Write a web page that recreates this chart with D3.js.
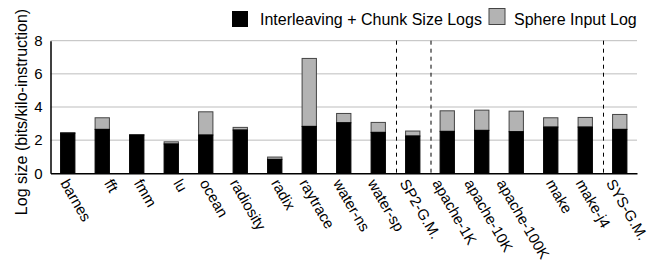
<!DOCTYPE html>
<html>
<head>
<meta charset="utf-8">
<script src="https://cdn.jsdelivr.net/npm/d3@7"></script>
<style>
	body { margin: 0; background: #fff; }
	text { font-family: "Liberation Sans", Arial, sans-serif; fill: #000; }
</style>
</head>
<body>
<script>
// Benchmarks on the x axis
let categories = ["barnes", "fft", "fmm", "lu", "ocean", "radiosity", "radix", "raytrace",
	"water-ns", "water-sp", "SP2-G.M.", "apache-1K", "apache-10K", "apache-100K",
	"make", "make-j4", "SYS-G.M."];

// Stacked series (bits/kilo-instruction)
let interleaveLog = [2.42, 2.65, 2.31, 1.77, 2.31, 2.61, 0.84, 2.83, 3.05, 2.47, 2.25,
	2.53, 2.59, 2.51, 2.79, 2.79, 2.65];
let inputLog = [0.03, 0.70, 0.02, 0.13, 1.40, 0.16, 0.14, 4.10, 0.56, 0.60, 0.30,
	1.24, 1.22, 1.24, 0.56, 0.58, 0.90];

let seriesNames = ["Interleaving + Chunk Size Logs", "Sphere Input Log"];
let yTicks = [0, 2, 4, 6, 8];

// Group separators sit before these categories
let separators = ["SP2-G.M.", "apache-1K", "SYS-G.M."];

let width = 655, height = 265;
let margin = {left: 50.5, right: 18, top: 40.7, bottom: 91.7};

let svg = d3.select("body")
			.append("svg")
			.attr("width", width)
			.attr("height", height);

let x = d3.scaleBand()
		  .domain(categories)
		  .range([margin.left, width - margin.right])
		  .paddingInner(0.585)
		  .paddingOuter(0.2925);

let y = d3.scaleLinear()
		  .domain([0, 8])
		  .range([height - margin.bottom, margin.top]);

// Gridlines
svg.append("g")
   .selectAll("line")
   .data(yTicks.slice(1))
   .enter()
   .append("line")
   .attr("x1", margin.left)
   .attr("x2", width - margin.right)
   .attr("y1", d => y(d))
   .attr("y2", d => y(d))
   .attr("stroke", "#bdbdbd")
   .attr("stroke-width", 1);

// Dashed separators
svg.append("g")
   .selectAll("line")
   .data(separators)
   .enter()
   .append("line")
   .attr("x1", d => x(d) - x.step() * x.paddingInner() / 2 + 1)
   .attr("x2", d => x(d) - x.step() * x.paddingInner() / 2 + 1)
   .attr("y1", y(8))
   .attr("y2", y(0))
   .attr("stroke", "#000")
   .attr("stroke-width", 1)
   .attr("stroke-dasharray", "4,4");

// Bars
let rows = categories.map((c, i) => ({name: c, a: interleaveLog[i], b: inputLog[i]}));

svg.append("g")
   .selectAll("rect")
   .data(rows)
   .enter()
   .append("rect")
   .attr("x", d => x(d.name))
   .attr("width", x.bandwidth())
   .attr("y", d => y(d.a + d.b))
   .attr("height", d => y(d.a) - y(d.a + d.b))
   .attr("fill", "#b3b3b3")
   .attr("stroke", "#444")
   .attr("stroke-width", 1);

svg.append("g")
   .selectAll("rect")
   .data(rows)
   .enter()
   .append("rect")
   .attr("x", d => x(d.name))
   .attr("width", x.bandwidth())
   .attr("y", d => y(d.a))
   .attr("height", d => y(0) - y(d.a))
   .attr("fill", "#000")
   .attr("stroke", "#000")
   .attr("stroke-width", 1);

// Axes (no tick marks)
let yAxis = svg.append("g")
			   .attr("transform", "translate(" + margin.left + ",0)")
			   .call(d3.axisLeft(y).tickValues(yTicks).tickSize(0).tickPadding(8));
yAxis.select(".domain").attr("stroke", "#000").attr("stroke-width", 1.5);
yAxis.selectAll("text").attr("font-size", 15).attr("font-family", null);

let xAxis = svg.append("g")
			   .attr("transform", "translate(0," + y(0) + ")")
			   .call(d3.axisBottom(x).tickSize(0).tickFormat(""));
xAxis.select(".domain").attr("stroke", "#000").attr("stroke-width", 1.5);

// Rotated category labels
svg.append("g")
   .selectAll("text")
   .data(categories)
   .enter()
   .append("text")
   .attr("font-size", 15)
   .text(d => d)
   .each(function(d) {
		let len = this.getComputedTextLength();
		let px = x(d) + x.bandwidth() / 2 + 5 - 0.28 * len;
		d3.select(this).attr("transform", "translate(" + px + ",183) rotate(60)");
   });

// Y axis title
svg.append("text")
   .attr("transform", "translate(27," + 112 + ") rotate(-90)")
   .attr("text-anchor", "middle")
   .attr("font-size", 16)
   .text("Log size (bits/kilo-instruction)");

// Legend
let legend = svg.append("g");
legend.append("rect")
	  .attr("x", 232).attr("y", 11).attr("width", 16).attr("height", 16)
	  .attr("fill", "#000");
legend.append("text")
	  .attr("x", 260).attr("y", 25).attr("font-size", 16)
	  .text(seriesNames[0]);
legend.append("rect")
	  .attr("x", 489).attr("y", 8.5).attr("width", 16).attr("height", 16)
	  .attr("fill", "#b3b3b3").attr("stroke", "#444");
legend.append("text")
	  .attr("x", 514).attr("y", 25).attr("font-size", 16)
	  .text(seriesNames[1]);
</script>
</body>
</html>
